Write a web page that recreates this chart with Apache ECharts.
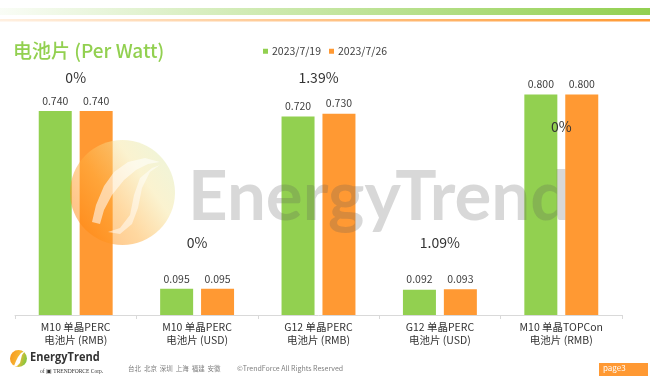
<!DOCTYPE html>
<html>
<head>
<meta charset="utf-8">
<script src="https://cdn.jsdelivr.net/npm/echarts@6/dist/echarts.min.js"></script>
<style>html,body{margin:0;padding:0;background:#fff}#c{width:658px;height:380px}</style>
</head>
<body>
<div id="c"></div>
<script>
const categories = ['M10 单晶PERC\n电池片 (RMB)', 'M10 单晶PERC\n电池片 (USD)', 'G12 单晶PERC\n电池片 (RMB)', 'G12 单晶PERC\n电池片 (USD)', 'M10 单晶TOPCon\n电池片 (RMB)'];
const seriesNames = ['2023/7/19', '2023/7/26'];
const prices0719 = [0.740, 0.095, 0.720, 0.092, 0.800];
const prices0726 = [0.740, 0.095, 0.730, 0.093, 0.800];
const changes = ['0%', '0%', '1.39%', '1.09%', '0%'];

const FONT = '"Noto Sans CJK SC", "Noto Sans", sans-serif';
const GREEN = '#92D050';
const ORANGE = '#FF9933';
const changeAnchor = [0.86, 0.261, 0.86, 0.261, 0.682];

const chart = echarts.init(document.getElementById('c'), null, {renderer: 'canvas'});
chart.setOption({
  animation: false,
  backgroundColor: '#fff',
  textStyle: {fontFamily: FONT},
  grid: {left: 15, right: 36, top: 39.3, bottom: 65},
  legend: {
    data: seriesNames,
    left: 263, top: 46, padding: 0,
    itemWidth: 5, itemHeight: 5, itemGap: 8,
    icon: 'rect',
    textStyle: {fontSize: 10.5, color: '#404040', fontFamily: FONT, padding: [0, 0, 0, -1]}
  },
  xAxis: {
    type: 'category',
    data: categories,
    axisLine: {lineStyle: {color: '#d9d9d9'}},
    axisTick: {show: true, length: 4, lineStyle: {color: '#d9d9d9'}},
    axisLabel: {fontSize: 10.5, color: '#333', lineHeight: 13, margin: 6, fontFamily: FONT, interval: 0}
  },
  yAxis: {type: 'value', min: 0, max: 1, show: false, splitLine: {show: false}},
  series: [
    {
      name: seriesNames[0], type: 'bar', data: prices0719, barWidth: 33, barGap: '24%',
      itemStyle: {color: GREEN},
      label: {show: true, position: 'top', distance: 5, fontSize: 10.5, color: '#404040', fontFamily: FONT,
        formatter: p => p.value.toFixed(3)}
    },
    {
      name: seriesNames[1], type: 'bar', data: prices0726, barWidth: 33,
      itemStyle: {color: ORANGE},
      label: {show: true, position: 'top', distance: 5, fontSize: 10.5, color: '#404040', fontFamily: FONT,
        formatter: p => p.value.toFixed(3)}
    },
    {
      name: 'change', type: 'scatter', symbolSize: 0, z: 5,
      itemStyle: {opacity: 1},
      data: changeAnchor.map((v, i) => [i, v]),
      label: {show: true, position: 'inside', fontSize: 14, color: '#333', opacity: 1, fontFamily: FONT,
        formatter: p => changes[p.dataIndex]}
    }
  ],
  graphic: [
    {type: 'rect', shape: {x: 0, y: 8, width: 650, height: 7}, z: 1,
      style: {fill: new echarts.graphic.LinearGradient(0, 0, 1, 0, [
        {offset: 0, color: 'rgba(146,208,80,0.05)'}, {offset: 0.35, color: 'rgba(146,208,80,0.4)'}, {offset: 1, color: GREEN}])}},
    {type: 'rect', shape: {x: 0, y: 19, width: 650, height: 2.5}, z: 1,
      style: {fill: new echarts.graphic.LinearGradient(0, 0, 1, 0, [
        {offset: 0, color: 'rgba(255,153,51,0.15)'}, {offset: 0.4, color: 'rgba(255,153,51,0.5)'}, {offset: 1, color: ORANGE}])}},
    {type: 'text', x: 13, y: 41, z: 10,
      style: {text: '电池片 (Per Watt)', fontSize: 19, fontWeight: 500, fill: GREEN, fontFamily: FONT}},
    // watermark logo
    {type: 'circle', shape: {cx: 122.5, cy: 192.5, r: 52.5}, z: 20, silent: true,
      style: {opacity: 0.5, fill: new echarts.graphic.LinearGradient(0, 0.85, 1, 0.15, [
        {offset: 0, color: '#FF7A00'}, {offset: 0.4, color: '#FFB040'}, {offset: 0.7, color: '#F6E6A0'}, {offset: 1, color: '#DCEBB5'}])}},
    {type: 'polygon', z: 21, silent: true,
      shape: {points: [[92,222],[96,205],[104,186],[114,172],[128,162],[145,158],[160,162],[148,164],[136,170],[124,180],[112,195],[104,210],[100,224]]},
      style: {fill: 'rgba(255,255,255,0.55)'}},
    {type: 'polygon', z: 21, silent: true,
      shape: {points: [[108,232],[120,228],[130,215],[134,195],[140,178],[152,168],[160,165],[150,172],[142,188],[138,208],[132,224],[120,234]]},
      style: {fill: 'rgba(255,255,255,0.5)'}},
    {type: 'text', x: 188, y: 198, z: 20, silent: true,
      style: {text: 'EnergyTrend', fontSize: 69, fontWeight: 'bold', fontFamily: 'Lato, "Open Sans", sans-serif',
        fill: 'rgba(90,90,90,0.24)', verticalAlign: 'middle', align: 'left'}},
    // footer logo
    {type: 'circle', shape: {cx: 18.5, cy: 358.5, r: 8.5}, z: 10,
      style: {fill: new echarts.graphic.LinearGradient(0, 0, 1, 0.3, [
        {offset: 0, color: '#F7941D'}, {offset: 0.6, color: '#F7B733'}, {offset: 1, color: '#8DC63F'}])}},
    {type: 'polygon', z: 11,
      shape: {points: [[14,366],[16,361],[18,357],[21,353],[25,351],[22,355],[21,359],[20,363],[17,366]]},
      style: {fill: '#fff'}},
    {type: 'text', x: 30, y: 352, z: 10, scaleX: 0.92,
      style: {text: 'EnergyTrend', fontSize: 12, fontWeight: 'bold', fill: '#333', fontFamily: '"Open Sans", sans-serif'}},
    {type: 'text', x: 40, y: 369, z: 10,
      style: {text: 'of ▣ TRENDFORCE Corp.', fontSize: 5.5, fill: '#333', fontFamily: '"Liberation Serif", serif'}},
    {type: 'text', x: 128, y: 365, z: 10,
      style: {text: '台北  北京  深圳  上海  福建  安徽', fontSize: 6.5, fill: '#808080', fontFamily: FONT}},
    {type: 'text', x: 237, y: 365, z: 10,
      style: {text: '©TrendForce All Rights Reserved', fontSize: 7, fill: '#808080', fontFamily: FONT}},
    {type: 'rect', shape: {x: 599, y: 363, width: 49, height: 13}, z: 10, style: {fill: ORANGE}},
    {type: 'text', x: 603, y: 364, z: 11,
      style: {text: 'page3', fontSize: 8, fill: '#fff', fontFamily: FONT}}
  ]
});
</script>
</body>
</html>
